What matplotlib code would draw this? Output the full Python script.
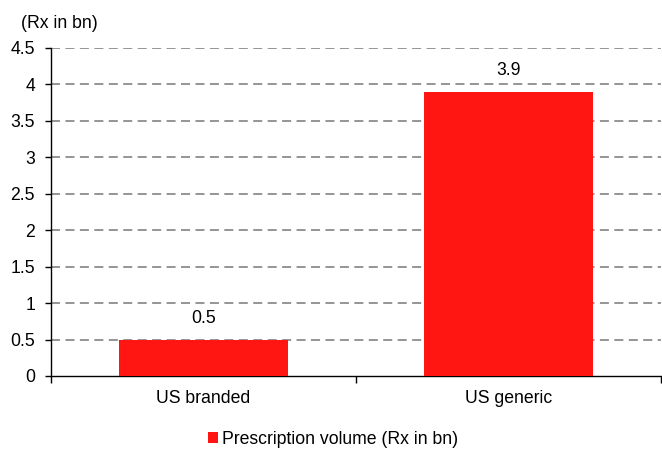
import numpy as np
import matplotlib.pyplot as plt

plt.rcParams['font.family'] = ['Liberation Sans', 'DejaVu Sans']

categorias = ['US branded', 'US generic']
volume = [0.5, 3.9]
rotulos = ['0.5', '3.9']
legenda = 'Prescription volume (Rx in bn)'
unidade = '(Rx in bn)'

cor = '#ff1612'
fs = 12.7

fig = plt.figure(figsize=(6.62, 4.49), dpi=100)
ax = fig.add_axes([51/662, 73/449, 610/662, 328/449])

x = np.arange(len(categorias))
barras = ax.bar(x, volume, width=0.555, color=cor, label=legenda, zorder=3)

for b, txt in zip(barras, rotulos):
    ax.annotate(txt, (b.get_x() + b.get_width()/2, b.get_height()),
                xytext=(0, 9), textcoords='offset points',
                ha='center', va='bottom', fontsize=fs)

ax.set_xlim(-0.5, 1.5)
ax.set_ylim(0, 4.5)
ax.set_yticks(np.arange(0, 4.51, 0.5))
ax.set_yticklabels(['0', '0.5', '1', '1.5', '2', '2.5', '3', '3.5', '4', '4.5'])
ax.set_xticks(x)
ax.set_xticklabels(categorias)
ax.set_xticks([-0.5, 0.5, 1.5], minor=True)

ax.tick_params(axis='x', which='major', length=0, labelsize=fs, pad=10)
ax.tick_params(axis='x', which='minor', length=5, width=1, direction='out')
ax.tick_params(axis='y', length=4.5, width=1, direction='out', labelsize=fs, pad=7)

for s in ['top', 'right']:
    ax.spines[s].set_visible(False)
for s in ['left', 'bottom']:
    ax.spines[s].set_linewidth(1)

for v in np.arange(0.5, 4.51, 0.5):
    ax.axhline(v, color='#8c8c8c', lw=1.3, ls=(0, (5, 3)), zorder=1)

fig.text(21/662, 1 - 24/449, unidade, fontsize=fs, va='center', ha='left')

fig.legend(loc='center', bbox_to_anchor=(333/662, 1 - 439/449), frameon=False,
           fontsize=fs, handlelength=0.55, handleheight=0.55, handletextpad=0.25)

fig.savefig('out.png', dpi=100)
